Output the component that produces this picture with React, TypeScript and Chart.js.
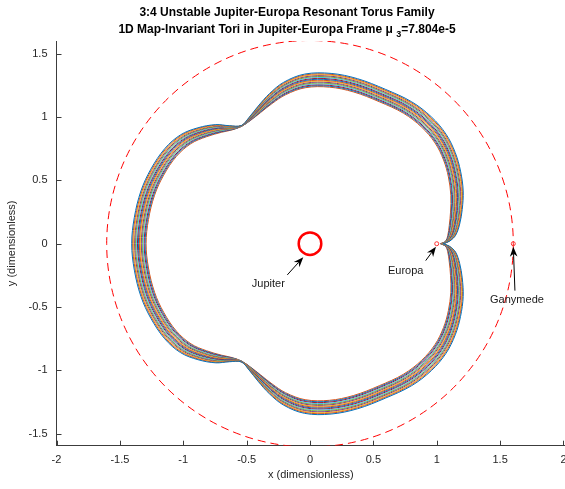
import React, { useEffect, useRef } from "react";
import { Chart, registerables } from "chart.js";

Chart.register(...registerables);

// ---------------- data ----------------
// Centre line of the resonant torus band, one closed orbit
const torusX = [
  1.040, 1.085, 1.118, 1.140, 1.155, 1.160, 1.140, 1.100, 1.030, 0.920, 0.770, 0.570, 0.360, 0.160, -0.040,
  -0.200, -0.310, -0.400, -0.475, -0.540, -0.625, -0.720, -0.850, -0.980, -1.100, -1.205, -1.280, -1.330, -1.350,
  -1.330, -1.280, -1.205, -1.100, -0.980, -0.850, -0.720, -0.625, -0.540, -0.475, -0.400, -0.310, -0.200, -0.040,
  0.160, 0.360, 0.570, 0.770, 0.920, 1.030, 1.100, 1.140, 1.160, 1.155, 1.140, 1.118, 1.085, 1.040,
];
const torusY = [
  0.000, 0.020, 0.065, 0.150, 0.260, 0.400, 0.550, 0.690, 0.830, 0.960, 1.075, 1.170, 1.250, 1.290, 1.285,
  1.225, 1.145, 1.060, 0.985, 0.930, 0.915, 0.910, 0.880, 0.825, 0.720, 0.565, 0.400, 0.200, 0.000,
  -0.200, -0.400, -0.565, -0.720, -0.825, -0.880, -0.910, -0.915, -0.930, -0.985, -1.060, -1.145, -1.225, -1.285,
  -1.290, -1.250, -1.170, -1.075, -0.960, -0.830, -0.690, -0.550, -0.400, -0.260, -0.150, -0.065, -0.020, 0.000,
];
// Relative radial spread of the family at each point of the centre line
const torusSpread = [
  0.010, 0.015, 0.028, 0.036, 0.040, 0.042, 0.042, 0.042, 0.042, 0.042, 0.042, 0.042, 0.042, 0.042, 0.042,
  0.040, 0.034, 0.024, 0.012, 0.003, 0.018, 0.033, 0.040, 0.042, 0.042, 0.042, 0.042, 0.042, 0.042,
  0.042, 0.042, 0.042, 0.042, 0.042, 0.040, 0.033, 0.018, 0.003, 0.012, 0.024, 0.034, 0.040, 0.042,
  0.042, 0.042, 0.042, 0.042, 0.042, 0.042, 0.042, 0.042, 0.042, 0.040, 0.036, 0.028, 0.015, 0.010,
];
// Family members (normalised amplitude, outermost to innermost)
const torusAmplitudes = [
  1.0, 0.867, 0.733, 0.6, 0.467, 0.333, 0.2, 0.067, -0.067, -0.2, -0.333, -0.467, -0.6, -0.733, -0.867, -1.0,
];
const torusColors = ["#0072BD", "#D95319", "#EDB120", "#7E2F8E", "#77AC30", "#4DBEEE", "#A2142F"];

const xTicks = [-2, -1.5, -1, -0.5, 0, 0.5, 1, 1.5, 2];
const xTickLabels = ["-2", "-1.5", "-1", "-0.5", "0", "0.5", "1", "1.5", "2"];
const yTicks = [-1.5, -1, -0.5, 0, 0.5, 1, 1.5];
const yTickLabels = ["-1.5", "-1", "-0.5", "0", "0.5", "1", "1.5"];

const jupiterPos = { x: 0, y: 0 };
const europaPos = { x: 1.0, y: 0 };
const ganymedePos = { x: 1.604, y: 0 };
const ganymedeOrbitRadius = 1.604;

const labelNames = ["Jupiter", "Europa", "Ganymede"];
const labelTextX = [-0.329, 0.755, 1.633];
const labelTextY = [-0.339, -0.238, -0.465];
const arrowTailX = [-0.179, 0.913, 1.617];
const arrowTailY = [-0.246, -0.133, -0.37];
const arrowHeadX = [-0.053, 0.994, 1.604];
const arrowHeadY = [-0.106, -0.023, -0.023];

const titleLine1 = "3:4 Unstable Jupiter-Europa Resonant Torus Family";
const titleLine2a = "1D Map-Invariant Tori in Jupiter-Europa Frame \u03bc ";
const titleLine2sub = "3";
const titleLine2b = "=7.804e-5";

const FONT = '"Liberation Sans", Arial, Helvetica, sans-serif';
const AXIS = "#3c3c3c";
const TICK = "#262626";

function drawArrow(ctx: CanvasRenderingContext2D, x1: number, y1: number, x2: number, y2: number) {
  const ang = Math.atan2(y2 - y1, x2 - x1);
  const dx = Math.cos(ang), dy = Math.sin(ang);
  const px = -dy, py = dx;
  const L = 10, W = 3.8, N = 7;
  ctx.beginPath();
  ctx.moveTo(x1, y1);
  ctx.lineTo(x2 - dx * N, y2 - dy * N);
  ctx.stroke();
  ctx.beginPath();
  ctx.moveTo(x2, y2);
  ctx.lineTo(x2 - dx * L + px * W, y2 - dy * L + py * W);
  ctx.lineTo(x2 - dx * N, y2 - dy * N);
  ctx.lineTo(x2 - dx * L - px * W, y2 - dy * L - py * W);
  ctx.closePath();
  ctx.fill();
}

const orbitPlugin = {
  id: "ganymedeOrbit",
  beforeDatasetsDraw(chart: any) {
    const { ctx, chartArea, scales } = chart;
    const xs = scales.x, ys = scales.y;
    const cx = xs.getPixelForValue(0), cy = ys.getPixelForValue(0);
    const rx = xs.getPixelForValue(ganymedeOrbitRadius) - cx;
    const ry = cy - ys.getPixelForValue(ganymedeOrbitRadius);
    ctx.save();
    ctx.beginPath();
    ctx.rect(chartArea.left, chartArea.top, chartArea.right - chartArea.left, chartArea.bottom - chartArea.top);
    ctx.clip();
    ctx.setLineDash([8, 5]);
    ctx.strokeStyle = "#FF0000";
    ctx.lineWidth = 1;
    ctx.beginPath();
    ctx.ellipse(cx, cy, rx, ry, 0, 0, Math.PI * 2);
    ctx.stroke();
    ctx.restore();
  },
};

const decorPlugin = {
  id: "decor",
  afterDraw(chart: any) {
    const { ctx, chartArea, scales } = chart;
    const xs = scales.x, ys = scales.y;
    ctx.save();
    // inward ticks
    ctx.strokeStyle = AXIS;
    ctx.lineWidth = 1;
    ctx.beginPath();
    for (const v of xTicks) {
      const p = Math.round(xs.getPixelForValue(v)) + 0.5;
      ctx.moveTo(p, chartArea.bottom);
      ctx.lineTo(p, chartArea.bottom - 5);
    }
    for (const v of yTicks) {
      const p = Math.round(ys.getPixelForValue(v)) + 0.5;
      ctx.moveTo(chartArea.left, p);
      ctx.lineTo(chartArea.left + 5, p);
    }
    ctx.stroke();

    // annotations
    ctx.strokeStyle = "#000";
    ctx.fillStyle = "#000";
    ctx.lineWidth = 1;
    for (let i = 0; i < labelNames.length; i++) {
      drawArrow(
        ctx,
        xs.getPixelForValue(arrowTailX[i]),
        ys.getPixelForValue(arrowTailY[i]),
        xs.getPixelForValue(arrowHeadX[i]),
        ys.getPixelForValue(arrowHeadY[i])
      );
    }
    ctx.font = `11px ${FONT}`;
    ctx.fillStyle = "#1a1a1a";
    ctx.textAlign = "center";
    ctx.textBaseline = "alphabetic";
    for (let i = 0; i < labelNames.length; i++) {
      ctx.fillText(labelNames[i], xs.getPixelForValue(labelTextX[i]), ys.getPixelForValue(labelTextY[i]));
    }

    // title
    ctx.fillStyle = "#000";
    ctx.font = `bold 12px ${FONT}`;
    ctx.textAlign = "center";
    ctx.fillText(titleLine1, 287, 16);
    ctx.textAlign = "left";
    const wa = ctx.measureText(titleLine2a).width;
    const wc = ctx.measureText(titleLine2b).width;
    ctx.font = `bold 9px ${FONT}`;
    const wb = ctx.measureText(titleLine2sub).width;
    const total = wa + wb + wc;
    let x0 = 287 - total / 2;
    ctx.font = `bold 12px ${FONT}`;
    ctx.fillText(titleLine2a, x0, 32.5);
    ctx.font = `bold 9px ${FONT}`;
    ctx.fillText(titleLine2sub, x0 + wa, 36.5);
    ctx.font = `bold 12px ${FONT}`;
    ctx.fillText(titleLine2b, x0 + wa + wb, 32.5);
    ctx.restore();
  },
};

export default function App() {
  const ref = useRef<HTMLCanvasElement>(null);

  useEffect(() => {
    const canvas = ref.current;
    if (!canvas) return;

    const torusSets = torusAmplitudes.map((a, k) => ({
      label: `Torus ${k + 1}`,
      data: torusX.map((x, i) => ({
        x: x * (1 + a * torusSpread[i]),
        y: torusY[i] * (1 + a * torusSpread[i]),
      })),
      showLine: true,
      borderColor: torusColors[k % torusColors.length],
      backgroundColor: torusColors[k % torusColors.length],
      borderWidth: 1,
      pointRadius: 0,
      pointHoverRadius: 0,
      tension: 0.35,
      fill: false,
    }));

    const bodySets = [
      {
        label: "Jupiter",
        data: [jupiterPos],
        showLine: false,
        pointRadius: 11.3,
        pointBorderWidth: 2.5,
        borderColor: "#FF0000",
        pointBorderColor: "#FF0000",
        backgroundColor: "rgba(0,0,0,0)",
        pointBackgroundColor: "rgba(0,0,0,0)",
      },
      {
        label: "Europa",
        data: [europaPos],
        showLine: false,
        pointRadius: 2,
        pointBorderWidth: 1,
        borderColor: "#FF3030",
        pointBorderColor: "#FF3030",
        backgroundColor: "rgba(0,0,0,0)",
        pointBackgroundColor: "rgba(0,0,0,0)",
      },
      {
        label: "Ganymede",
        data: [ganymedePos],
        showLine: false,
        pointRadius: 2,
        pointBorderWidth: 1,
        borderColor: "#FF3030",
        pointBorderColor: "#FF3030",
        backgroundColor: "rgba(0,0,0,0)",
        pointBackgroundColor: "rgba(0,0,0,0)",
      },
    ];

    const chart = new Chart(canvas, {
      type: "scatter",
      data: { datasets: [...bodySets, ...torusSets] as any },
      options: {
        responsive: false,
        animation: false,
        devicePixelRatio: 1,
        events: [],
        layout: { autoPadding: false, padding: { top: 41, left: 0, right: 0, bottom: 0 } },
        plugins: {
          legend: { display: false },
          tooltip: { enabled: false },
          title: { display: false },
        },
        scales: {
          x: {
            type: "linear",
            position: "bottom",
            min: -2,
            max: 2.012,
            grid: { display: false, drawTicks: false },
            border: { display: true, color: AXIS, width: 1 },
            ticks: {
              padding: 8,
              color: TICK,
              font: { family: FONT, size: 11 },
              maxRotation: 0,
              autoSkip: false,
              callback: (_v: any, i: number) => xTickLabels[i],
            },
            afterBuildTicks: (s: any) => {
              s.ticks = xTicks.map((v) => ({ value: v }));
            },
            afterFit: (s: any) => {
              s.height = 43.3;
              s.paddingLeft = 0;
              s.paddingRight = 0;
            },
            title: {
              display: true,
              text: "x (dimensionless)",
              color: TICK,
              font: { family: FONT, size: 11 },
              padding: { top: 0, bottom: 7 },
            },
          },
          y: {
            type: "linear",
            position: "left",
            min: -1.594,
            max: 1.6,
            grid: { display: false, drawTicks: false },
            border: { display: true, color: AXIS, width: 1 },
            ticks: {
              padding: 9,
              color: TICK,
              font: { family: FONT, size: 11 },
              autoSkip: false,
              callback: (_v: any, i: number) => yTickLabels[i],
            },
            afterBuildTicks: (s: any) => {
              s.ticks = yTicks.map((v) => ({ value: v }));
            },
            afterFit: (s: any) => {
              s.width = 56.5;
              s.paddingTop = 0;
              s.paddingBottom = 0;
            },
            title: {
              display: true,
              text: "y (dimensionless)",
              color: TICK,
              font: { family: FONT, size: 11 },
              padding: { top: 5, bottom: 0 },
            },
          },
        },
      } as any,
      plugins: [orbitPlugin, decorPlugin],
    });

    return () => chart.destroy();
  }, []);

  return (
    <div style={{ position: "fixed", left: 0, top: 0, width: 565, height: 489, background: "#fff" }}>
      <canvas ref={ref} width={565} height={489} style={{ display: "block", width: 565, height: 489 }} />
    </div>
  );
}
